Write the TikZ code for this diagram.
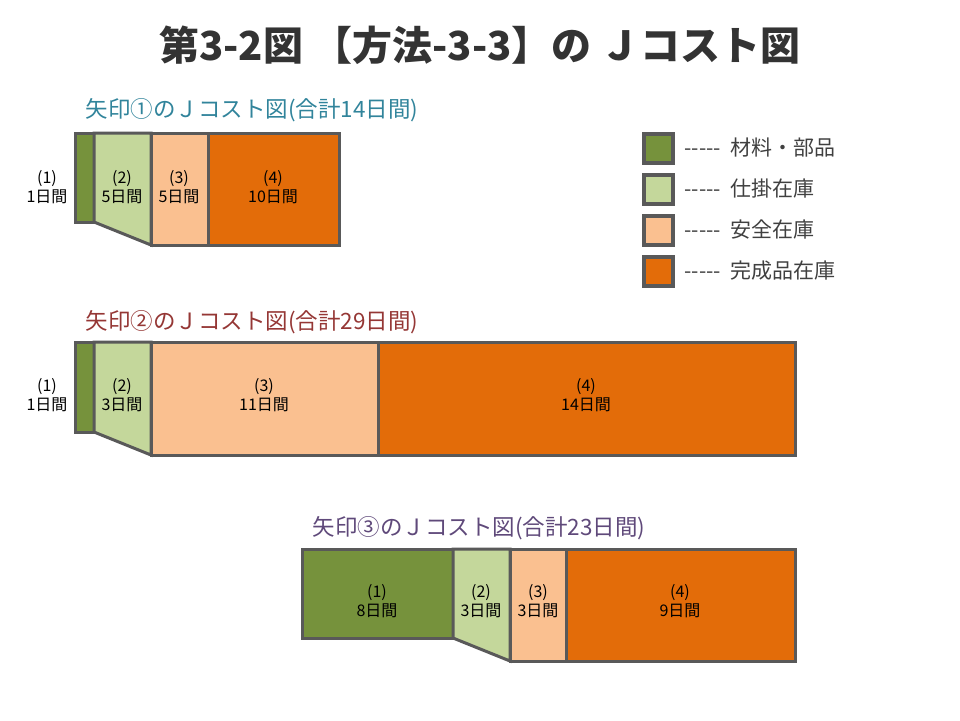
\documentclass[tikz,border=0pt]{standalone}
\usepackage{fontspec}
\setmainfont{Noto Sans CJK JP}
\definecolor{edge}{HTML}{595959}
\definecolor{matc}{HTML}{76923C}
\definecolor{wipc}{HTML}{C4D79B}
\definecolor{safec}{HTML}{FAC090}
\definecolor{prodc}{HTML}{E36C09}
\definecolor{tealc}{HTML}{31849B}
\definecolor{redc}{HTML}{953735}
\definecolor{purc}{HTML}{5F497A}
\newcommand{\dashrun}{{-}{-}{-}{-}{-}\ \ }
\tikzset{
  cell/.style={draw=edge, line width=3pt},
  lbl/.style={font=\fontsize{16}{19}\selectfont, align=center, inner sep=0pt},
  ctitle/.style={font=\fontsize{22.5}{26}\selectfont, anchor=west},
  legbox/.style={draw=edge, line width=4pt, minimum size=29pt, inner sep=0pt},
  legtxt/.style={font=\fontsize{21}{24}\selectfont, anchor=west, text=black!75}
}
\begin{document}
\begin{tikzpicture}[x=1pt, y=-1pt]
    \useasboundingbox (0,0) rectangle (960,720);
    % title
    \node[font=\fontsize{40}{46}\selectfont\bfseries, text=black!80,
          preaction={}] (title) at (480,45) {第3-2図 【方法-3-3】の Ｊコスト図};

    % chart 1
    \node[ctitle, text=tealc] (t1) at (82,110) {矢印①のＪコスト図(合計14日間)};
    \filldraw[cell, fill=matc] (75,133) rectangle (94,222);
    \filldraw[cell, fill=wipc] (94,133) -- (151,133) -- (151,245) -- (94,222) -- cycle;
    \filldraw[cell, fill=safec] (151,133) rectangle (208,245);
    \filldraw[cell, fill=prodc] (208,133) rectangle (339,245);
    \node[lbl] (a1) at (47,187) {(1)\\1日間};
    \node[lbl] (a2) at (122,187) {(2)\\5日間};
    \node[lbl] (a3) at (179,187) {(3)\\5日間};
    \node[lbl] (a4) at (273,187) {(4)\\10日間};

    % chart 2
    \node[ctitle, text=redc] (t2) at (82,322) {矢印②のＪコスト図(合計29日間)};
    \filldraw[cell, fill=matc] (75,342) rectangle (94,432);
    \filldraw[cell, fill=wipc] (94,342) -- (151,342) -- (151,455) -- (94,432) -- cycle;
    \filldraw[cell, fill=safec] (151,342) rectangle (378,455);
    \filldraw[cell, fill=prodc] (378,342) rectangle (795,455);
    \node[lbl] (b1) at (47,395) {(1)\\1日間};
    \node[lbl] (b2) at (122,395) {(2)\\3日間};
    \node[lbl] (b3) at (264,395) {(3)\\11日間};
    \node[lbl] (b4) at (586,395) {(4)\\14日間};

    % chart 3
    \node[ctitle, text=purc] (t3) at (309,528) {矢印③のＪコスト図(合計23日間)};
    \filldraw[cell, fill=matc] (302,549) rectangle (453,638);
    \filldraw[cell, fill=wipc] (453,549) -- (510,549) -- (510,661) -- (453,638) -- cycle;
    \filldraw[cell, fill=safec] (510,549) rectangle (566,661);
    \filldraw[cell, fill=prodc] (566,549) rectangle (795,661);
    \node[lbl] (c1) at (377,601) {(1)\\8日間};
    \node[lbl] (c2) at (481,601) {(2)\\3日間};
    \node[lbl] (c3) at (538,601) {(3)\\3日間};
    \node[lbl] (c4) at (680,601) {(4)\\9日間};

    % legend
    \node[legbox, fill=matc] (k1) at (658,148) {};
    \node[legbox, fill=wipc] (k2) at (658,189) {};
    \node[legbox, fill=safec] (k3) at (658,230) {};
    \node[legbox, fill=prodc] (k4) at (658,271) {};
    \node[legtxt] (l1) at (681,148) {\dashrun 材料・部品};
    \node[legtxt] (l2) at (681,189) {\dashrun 仕掛在庫};
    \node[legtxt] (l3) at (681,230) {\dashrun 安全在庫};
    \node[legtxt] (l4) at (681,271) {\dashrun 完成品在庫};
\end{tikzpicture}
\end{document}
